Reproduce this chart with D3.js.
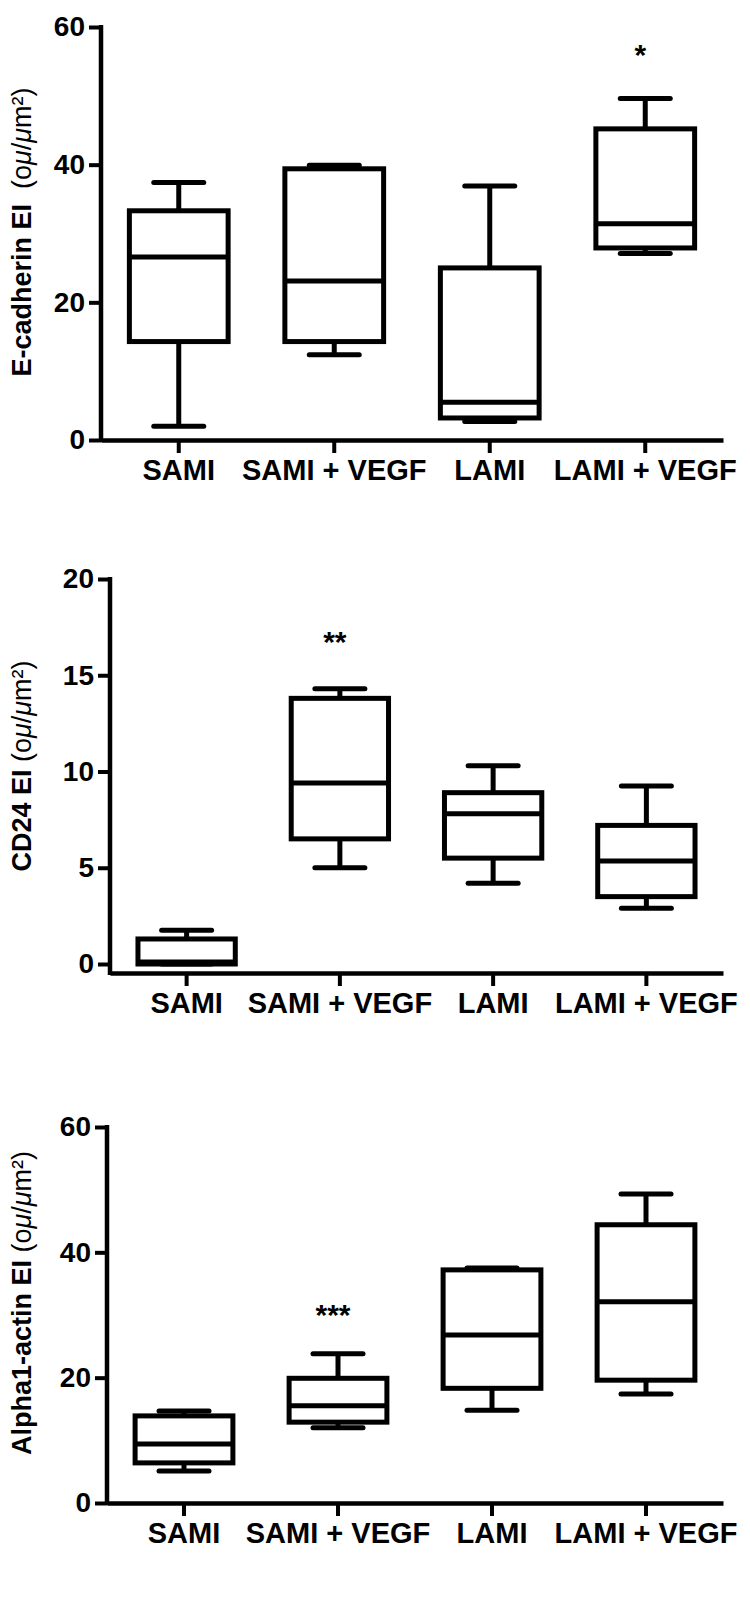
<!DOCTYPE html>
<html>
<head>
<meta charset="utf-8">
<script src="https://cdn.jsdelivr.net/npm/d3@7"></script>
<style>
body { margin: 0; background: #fff; }
svg text { font-family: "Liberation Sans", Arial, sans-serif; fill: #000; }
</style>
</head>
<body>
<svg id="chart" width="750" height="1611"></svg>
<script>
let groups = ["SAMI", "SAMI + VEGF", "LAMI", "LAMI + VEGF"];

// E-cadherin EI
let ecadMin = [2.0, 12.4, 2.7, 27.1];
let ecadQ1 = [14.3, 14.3, 3.2, 27.9];
let ecadMedian = [26.6, 23.1, 5.5, 31.4];
let ecadQ3 = [33.3, 39.4, 25.0, 45.2];
let ecadMax = [37.4, 39.9, 36.9, 49.6];
let ecadTicks = [0, 20, 40, 60];

// CD24 EI
let cd24Min = [0, 5.0, 4.2, 2.9];
let cd24Q1 = [0, 6.5, 5.5, 3.5];
let cd24Median = [0.1, 9.4, 7.8, 5.35];
let cd24Q3 = [1.3, 13.8, 8.9, 7.2];
let cd24Max = [1.75, 14.3, 10.3, 9.25];
let cd24Ticks = [0, 5, 10, 15, 20];

// Alpha1-actin EI
let actinMin = [5.1, 12.0, 14.8, 17.4];
let actinQ1 = [6.4, 12.9, 18.3, 19.6];
let actinMedian = [9.4, 15.5, 26.8, 32.1];
let actinQ3 = [13.9, 19.9, 37.2, 44.4];
let actinMax = [14.7, 23.8, 37.5, 49.3];
let actinTicks = [0, 20, 40, 60];

// significance marks
let sigGroup = ["LAMI + VEGF", "SAMI + VEGF", "SAMI + VEGF"];
let sigValue = [57, 17.1, 31.1];
let sigText = ["*", "**", "***"];

let titles = ["E-cadherin EI", "CD24 EI", "Alpha1-actin EI"];
let titleGaps = ["  ", " ", " "];

let makeBoxes = function (mn, q1, med, q3, mx) {
	return groups.map((g, i) => ({
		group: g, min: mn[i], q1: q1[i], median: med[i], q3: q3[i], max: mx[i]
	}));
};

// layout of each panel (pixels)
let panels = [
	{ boxes: makeBoxes(ecadMin, ecadQ1, ecadMedian, ecadQ3, ecadMax), ticks: ecadTicks,
		left: 101, right: 723, zero: 440, top: 27, xAxisY: 440, titleY: 232 },
	{ boxes: makeBoxes(cd24Min, cd24Q1, cd24Median, cd24Q3, cd24Max), ticks: cd24Ticks,
		left: 110, right: 723, zero: 964, top: 579, xAxisY: 973, titleY: 766 },
	{ boxes: makeBoxes(actinMin, actinQ1, actinMedian, actinQ3, actinMax), ticks: actinTicks,
		left: 107, right: 723, zero: 1503, top: 1127, xAxisY: 1503, titleY: 1303 },
];

let svg = d3.select("#chart");

let drawPanel = function (p, idx) {
	let g = svg.append("g");
	let x = d3.scaleBand().domain(groups).range([p.left, p.right]);
	let y = d3.scaleLinear()
		.domain([0, d3.max(p.ticks)])
		.range([p.zero, p.top]);

	let boxW = x.bandwidth() * 0.635;
	let capW = 50;
	let cx = (d) => x(d.group) + x.bandwidth() / 2;

	// y axis
	let yAxis = g.append("g")
		.attr("transform", `translate(${p.left},0)`)
		.call(d3.axisLeft(y).tickValues(p.ticks).tickSize(12).tickPadding(4).tickSizeOuter(0));
	yAxis.select(".domain").remove();
	yAxis.selectAll(".tick line").attr("stroke", "#000").attr("stroke-width", 4);
	yAxis.selectAll(".tick text")
		.attr("font-size", 28).attr("font-weight", "bold");
	g.append("line")
		.attr("x1", p.left).attr("x2", p.left)
		.attr("y1", y(d3.max(p.ticks)) - 2).attr("y2", p.xAxisY + 2)
		.attr("stroke", "#000").attr("stroke-width", 4.5);

	// x axis
	let xAxis = g.append("g")
		.attr("transform", `translate(0,${p.xAxisY})`)
		.call(d3.axisBottom(x).tickSize(13).tickPadding(6).tickSizeOuter(0));
	xAxis.select(".domain").attr("stroke", "#000").attr("stroke-width", 4.5);
	xAxis.selectAll(".tick line").attr("stroke", "#000").attr("stroke-width", 4);
	xAxis.selectAll(".tick text")
		.attr("font-size", 29).attr("font-weight", "bold");

	// whiskers
	let box = g.selectAll(".box").data(p.boxes).enter().append("g").attr("class", "box");
	box.append("line")
		.attr("x1", cx).attr("x2", cx)
		.attr("y1", (d) => y(d.q3)).attr("y2", (d) => y(d.max))
		.attr("stroke", "#000").attr("stroke-width", 5);
	box.append("line")
		.attr("x1", cx).attr("x2", cx)
		.attr("y1", (d) => y(d.q1)).attr("y2", (d) => y(d.min))
		.attr("stroke", "#000").attr("stroke-width", 5);
	box.append("line")
		.attr("x1", (d) => cx(d) - capW / 2).attr("x2", (d) => cx(d) + capW / 2)
		.attr("y1", (d) => y(d.max)).attr("y2", (d) => y(d.max))
		.attr("stroke", "#000").attr("stroke-width", 5).attr("stroke-linecap", "round");
	box.append("line")
		.attr("x1", (d) => cx(d) - capW / 2).attr("x2", (d) => cx(d) + capW / 2)
		.attr("y1", (d) => y(d.min)).attr("y2", (d) => y(d.min))
		.attr("stroke", "#000").attr("stroke-width", 5).attr("stroke-linecap", "round");
	// box
	box.append("rect")
		.attr("x", (d) => cx(d) - boxW / 2)
		.attr("width", boxW)
		.attr("y", (d) => y(d.q3))
		.attr("height", (d) => y(d.q1) - y(d.q3))
		.attr("fill", "#fff").attr("stroke", "#000").attr("stroke-width", 5);
	box.append("line")
		.attr("x1", (d) => cx(d) - boxW / 2).attr("x2", (d) => cx(d) + boxW / 2)
		.attr("y1", (d) => y(d.median)).attr("y2", (d) => y(d.median))
		.attr("stroke", "#000").attr("stroke-width", 5);

	// significance
	g.append("text")
		.attr("x", x(sigGroup[idx]) + x.bandwidth() / 2 - 5)
		.attr("y", y(sigValue[idx]) + 17)
		.attr("text-anchor", "middle")
		.attr("font-size", 30).attr("font-weight", "bold")
		.text(sigText[idx]);

	// y title
	let t = g.append("text")
		.attr("transform", `translate(31,${p.titleY}) rotate(-90)`)
		.attr("text-anchor", "middle")
		.attr("font-size", 27)
		.style("white-space", "pre");
	t.append("tspan").attr("font-weight", "bold").text(titles[idx] + titleGaps[idx]);
	t.append("tspan").text("(o");
	t.append("tspan").attr("font-style", "italic").text("\u03bc");
	t.append("tspan").text("/");
	t.append("tspan").attr("font-style", "italic").text("\u03bc");
	t.append("tspan").text("m\u00b2)");
};

panels.forEach(drawPanel);
</script>
</body>
</html>
